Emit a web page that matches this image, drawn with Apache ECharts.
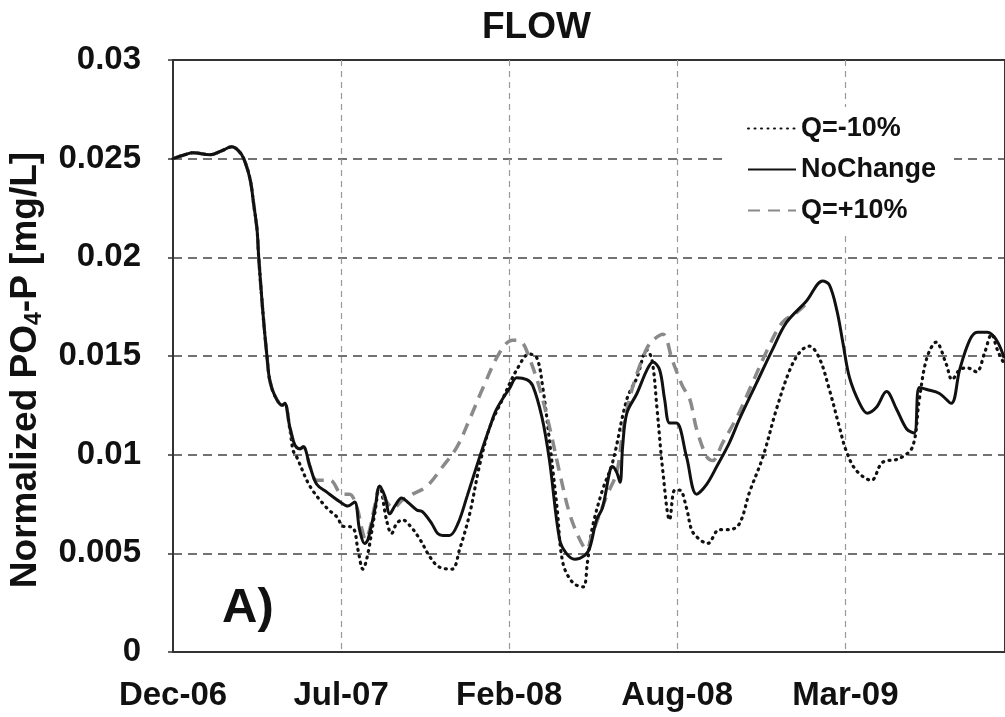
<!DOCTYPE html>
<html>
<head>
<meta charset="utf-8">
<script src="https://cdn.jsdelivr.net/npm/echarts@6/dist/echarts.min.js"></script>
<style>
  html, body { margin: 0; padding: 0; background: #fff; }
  #chart { width: 1005px; height: 717px; }
</style>
</head>
<body>
<div id="chart"></div>
<script>
// x values: days after the Dec-06 axis origin; y values: normalized PO4-P [mg/L]
const tickLabels = ['Dec-06', 'Jul-07', 'Feb-08', 'Aug-08', 'Mar-09'];
const tickStepDays = 200;
const seriesNames = ['Q=-10%', 'NoChange', 'Q=+10%'];

const noChange = [
  [0,0.0250],[14,0.0252],[24,0.0253],[44,0.0252],[58,0.0254],[70,0.0256],[80,0.0253],[86,0.0248],
  [92,0.0239],[96,0.0227],[100,0.0214],[102,0.0200],[107,0.0172],[112,0.0149],[115,0.0138],[121,0.0130],
  [130,0.0125],[133,0.0126],[139,0.0114],[145,0.0105],[151,0.0103],[155,0.0104],[163,0.0094],[171,0.0085],
  [183,0.0081],[199,0.0076],[208,0.0074],[216,0.0076],[222,0.0062],[228,0.0055],[232,0.0057],[240,0.0072],
  [246,0.0084],[252,0.0079],[258,0.0070],[264,0.0074],[272,0.0078],[279,0.0076],[290,0.0072],[297,0.0071],
  [308,0.0065],[315,0.0060],[321,0.0059],[329,0.0059],[339,0.0065],[350,0.0079],[365,0.0099],[377,0.0114],
  [385,0.0123],[401,0.0134],[409,0.0139],[421,0.0138],[428,0.0135],[439,0.0119],[448,0.0097],[460,0.0057],
  [468,0.0050],[478,0.0047],[490,0.0049],[496,0.0053],[504,0.0067],[511,0.0073],[520,0.0092],[523,0.0094],
  [528,0.0091],[532,0.0086],[535,0.0104],[540,0.0121],[552,0.0131],[564,0.0143],[571,0.0147],[579,0.0143],
  [585,0.0128],[591,0.0116],[599,0.0116],[611,0.0099],[623,0.0080],[635,0.0085],[647,0.0094],[662,0.0106],
  [674,0.0118],[694,0.0136],[713,0.0153],[730,0.0167],[754,0.0178],[773,0.0188],[781,0.0186],[790,0.0173],
  [797,0.0157],[805,0.0139],[817,0.0126],[826,0.0121],[837,0.0124],[849,0.0132],[861,0.0123],[873,0.0113],
  [882,0.0111],[888,0.0134],[897,0.0133],[912,0.0131],[926,0.0126],[936,0.0143],[948,0.0158],[957,0.0162],
  [969,0.0162],[980,0.0158],[989,0.0149]
];

const qMinus10 = [
  [0,0.0250],[14,0.0252],[24,0.0253],[44,0.0252],[58,0.0254],[70,0.0256],[80,0.0253],[86,0.0248],
  [92,0.0239],[96,0.0227],[100,0.0214],[102,0.0200],[107,0.0172],[112,0.0149],[115,0.0138],[121,0.0130],
  [130,0.0125],[133,0.0126],[139,0.0113],[143,0.0102],[147,0.0099],[163,0.0084],[183,0.0073],[196,0.0068],
  [201,0.0064],[214,0.0063],[220,0.0052],[226,0.0042],[231,0.0048],[240,0.0070],[246,0.0084],[254,0.0067],
  [260,0.0060],[266,0.0065],[273,0.0067],[282,0.0064],[294,0.0057],[306,0.0048],[317,0.0043],[332,0.0042],
  [341,0.0052],[353,0.0070],[365,0.0095],[377,0.0114],[392,0.0128],[409,0.0143],[424,0.0151],[433,0.0149],
  [440,0.0134],[448,0.0107],[457,0.0073],[464,0.0045],[476,0.0035],[488,0.0033],[493,0.0045],[499,0.0063],
  [511,0.0082],[523,0.0096],[540,0.0128],[552,0.0139],[564,0.0153],[570,0.0148],[576,0.0123],[583,0.0091],
  [591,0.0067],[597,0.0082],[603,0.0082],[611,0.0073],[617,0.0062],[624,0.0058],[636,0.0055],[650,0.0062],
  [662,0.0062],[674,0.0065],[686,0.0081],[702,0.0099],[718,0.0123],[734,0.0143],[746,0.0152],[757,0.0155],
  [769,0.0149],[781,0.0133],[793,0.0114],[801,0.0102],[813,0.0092],[831,0.0087],[844,0.0096],[864,0.0098],
  [880,0.0104],[888,0.0128],[897,0.0149],[908,0.0157],[920,0.0146],[927,0.0138],[936,0.0143],[945,0.0144],
  [956,0.0142],[966,0.0152],[974,0.0161],[981,0.0153],[989,0.0146]
];

const qPlus10 = [
  [0,0.0250],[14,0.0252],[24,0.0253],[44,0.0252],[58,0.0254],[70,0.0256],[80,0.0253],[86,0.0248],
  [92,0.0239],[96,0.0227],[100,0.0214],[102,0.0200],[107,0.0172],[112,0.0149],[115,0.0138],[121,0.0130],
  [130,0.0125],[133,0.0126],[139,0.0114],[145,0.0105],[151,0.0103],[155,0.0104],[163,0.0094],[171,0.0087],
  [187,0.0087],[201,0.0080],[210,0.0080],[219,0.0073],[225,0.0062],[229,0.0057],[234,0.0062],[240,0.0074],
  [246,0.0084],[253,0.0077],[262,0.0073],[273,0.0077],[285,0.0080],[302,0.0084],[321,0.0094],[338,0.0104],
  [353,0.0118],[369,0.0134],[389,0.0152],[404,0.0158],[415,0.0157],[424,0.0149],[436,0.0134],[448,0.0114],
  [460,0.0091],[472,0.0070],[484,0.0057],[492,0.0052],[499,0.0060],[516,0.0079],[528,0.0091],[535,0.0111],
  [543,0.0128],[552,0.0141],[564,0.0154],[571,0.0158],[583,0.0161],[594,0.0148],[606,0.0135],[615,0.0128],
  [623,0.0113],[635,0.0099],[642,0.0097],[654,0.0106],[671,0.0119],[686,0.0133],[706,0.0152],[725,0.0167],
  [742,0.0172],[757,0.0178]
];

const FONT = '"Liberation Sans", Arial, sans-serif';
const chart = echarts.init(document.getElementById('chart'), null, { renderer: 'canvas' });

chart.setOption({
  animation: false,
  backgroundColor: '#ffffff',
  title: {
    text: 'FLOW',
    left: 477,
    top: 4,
    textStyle: { fontFamily: FONT, fontWeight: 'bold', fontSize: 37, color: '#111' }
  },
  grid: {
    left: 173, top: 60, right: -3, bottom: 65,
    show: true, borderColor: '#333', borderWidth: 2, backgroundColor: 'transparent'
  },
  legend: {
    orient: 'vertical',
    left: 727,
    top: 107,
    padding: [8, 18, 8, 20],
    backgroundColor: '#ffffff',
    itemWidth: 48,
    itemHeight: 14,
    itemGap: 14,
    data: seriesNames,
    itemStyle: { color: 'rgba(0,0,0,0)', borderWidth: 0, opacity: 0 },
    textStyle: { fontFamily: FONT, fontWeight: 'bold', fontSize: 27, color: '#111' }
  },
  xAxis: {
    type: 'value',
    min: 0,
    max: 990,
    interval: tickStepDays,
    axisLine: { show: true, lineStyle: { color: '#333', width: 2 } },
    axisTick: { show: false },
    splitLine: { show: true, showMinLine: false, showMaxLine: false,
      lineStyle: { color: '#9a9a9a', width: 1.2, type: [6, 5] } },
    axisLabel: {
      margin: 27,
      showMaxLabel: false,
      fontFamily: FONT, fontWeight: 'bold', fontSize: 33, color: '#111',
      formatter: function (v) {
        return (v % tickStepDays === 0) ? (tickLabels[v / tickStepDays] || '') : '';
      }
    }
  },
  yAxis: {
    type: 'value',
    min: 0,
    max: 0.03,
    interval: 0.005,
    axisLine: { show: true, lineStyle: { color: '#333', width: 2 } },
    axisTick: { show: true, length: 5, lineStyle: { color: '#333', width: 1.5 } },
    splitLine: { show: true, showMinLine: false, showMaxLine: false,
      lineStyle: { color: '#444', width: 1.6, type: [9, 6] } },
    axisLabel: {
      margin: 32,
      fontFamily: FONT, fontWeight: 'bold', fontSize: 33, color: '#111',
      formatter: function (v) { return String(+v.toFixed(3)); }
    }
  },
  graphic: [
    {
      type: 'text',
      x: 26, y: 370,
      rotation: Math.PI / 2,
      style: {
        text: '{a|Normalized PO}{s|4}{a|-P [mg/L]}',
        align: 'center',
        verticalAlign: 'middle',
        fill: '#111',
        rich: {
          a: { fontFamily: FONT, fontWeight: 'bold', fontSize: 37, lineHeight: 40, fill: '#111' },
          s: { fontFamily: FONT, fontWeight: 'bold', fontSize: 23, lineHeight: 40, verticalAlign: 'bottom', padding: [12, 0, 0, 0], fill: '#111' }
        }
      }
    },
    {
      type: 'text',
      x: 222, y: 608,
      style: {
        text: 'A)',
        fontFamily: FONT, fontWeight: 'bold', fontSize: 49,
        verticalAlign: 'middle',
        fill: '#111'
      }
    }
  ],
  series: [
    {
      name: 'Q=-10%', type: 'line', data: qMinus10, showSymbol: false, symbol: 'none',
      smooth: 0.35, z: 2,
      lineStyle: { color: '#111', width: 3.2, type: [1, 5.5], cap: 'round' },
      itemStyle: { color: '#111' }
    },
    {
      name: 'Q=+10%', type: 'line', data: qPlus10, showSymbol: false, symbol: 'none',
      smooth: 0.35, z: 3,
      lineStyle: { color: '#8a8a8a', width: 3.5, type: [12, 8] },
      itemStyle: { color: '#8a8a8a' }
    },
    {
      name: 'NoChange', type: 'line', data: noChange, showSymbol: false, symbol: 'none',
      smooth: 0.35, z: 4,
      lineStyle: { color: '#111', width: 3 },
      itemStyle: { color: '#111' }
    }
  ]
});
</script>
</body>
</html>
